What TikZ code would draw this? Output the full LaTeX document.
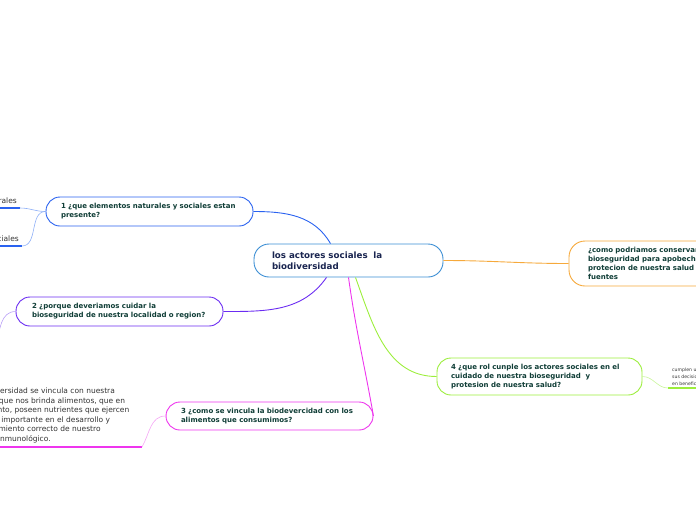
\documentclass[tikz,border=0pt]{standalone}
\usepackage{fontspec}
\setmainfont{DejaVu Sans}
\usetikzlibrary{positioning}

\definecolor{centralblue}{HTML}{3B8ED4}
\definecolor{centraltext}{HTML}{1A2550}
\definecolor{questiontext}{HTML}{0F3D36}
\definecolor{answertext}{HTML}{333333}
\definecolor{qblue}{HTML}{2A62F0}
\definecolor{qbluelight}{HTML}{8FB0F7}
\definecolor{qpurple}{HTML}{6B2CF2}
\definecolor{qpurplelight}{HTML}{B9A0F6}
\definecolor{qmagenta}{HTML}{EE35EE}
\definecolor{qmagentalight}{HTML}{F4A6F4}
\definecolor{qgreen}{HTML}{9CEE3C}
\definecolor{qgreenlight}{HTML}{C9F59B}
\definecolor{qorange}{HTML}{F6A93B}

\begin{document}
\begin{tikzpicture}[x=1pt,y=-1pt,
    central/.style={rectangle,draw=centralblue,line width=0.9pt,fill=white,rounded corners=15pt,inner xsep=18pt,inner ysep=0pt,minimum height=33pt,align=left,text=centraltext,font=\bfseries\fontsize{8.7}{11}\selectfont},
    question/.style={rectangle,draw,line width=0.9pt,fill=white,rounded corners=14pt,inner xsep=15pt,inner ysep=0pt,minimum height=29pt,align=left,text=questiontext,font=\bfseries\fontsize{7}{9}\selectfont},
    answer/.style={inner sep=0pt,align=left,text=answertext,font=\fontsize{7.5}{9.5}\selectfont},
    smallanswer/.style={inner sep=0pt,align=left,text=answertext,font=\fontsize{4.6}{7}\selectfont},
    branch/.style={line width=0.9pt},
    twig/.style={line width=0.6pt},
    underline/.style={line width=1.8pt}
    ]

    \useasboundingbox (0,0) rectangle (696,520);
    \clip (0,0) rectangle (696,520);

    \node (central) [central,text width=153pt] at (348.5,260.5) {los actores sociales\ \ la\\biodiversidad};

    \node (q1) [question,draw=qblue,text width=177pt] at (149.5,211.5) {1 ¿que elementos naturales y sociales estan\\presente?};
    \node (q2) [question,draw=qpurple,inner xsep=16pt,text width=175pt] at (119.5,311.5) {2 ¿porque deveriamos cuidar la\\bioseguridad de nuestra localidad o region?};
    \node (q3) [question,draw=qmagenta,minimum height=28pt,text width=177pt] at (269.5,416) {3 ¿como se vincula la biodevercidad con los\\alimentos que consumimos?};
    \node (q4) [question,draw=qgreen,inner xsep=14pt,minimum height=37pt,text width=177pt] at (539.5,376.5) {4 ¿que rol cunple los actores sociales en el\\cuidado de nuestra bioseguridad\ \ y\\protesion de nuestra salud?};
    \node (q5) [question,draw=qorange,inner xsep=19pt,minimum height=45pt,rounded corners=16pt,text width=162pt] at (669,263.5) {¿como podriamos conservar la\\bioseguridad para apobechar la\\protecion de nuestra salud y sus\\fuentes};

    \draw[branch,qblue] ([xshift=-18pt]central.north) to[out=120,in=0] (q1.east);
    \draw[branch,qpurple] ([xshift=-22pt]central.south) to[out=-125,in=0] (q2.east);
    \draw[branch,qmagenta] (central.south) to[out=-82,in=100] (q3.east);
    \draw[branch,qgreen] ([xshift=7pt]central.south) to[out=-70,in=180] (q4.west);
    \draw[branch,qorange] (central.east) to[out=0,in=180] (q5.west);

    % leaves of 1
    \coordinate (natend) at (20,208);
    \coordinate (socend) at (22,246);
    \node (nat) [answer,anchor=south east] at (17,204) {naturales};
    \node (soc) [answer,anchor=south east] at (19,242) {sociales};
    \draw[underline,qblue] (nat.south west |- natend) -- (natend);
    \draw[underline,qblue] (soc.south west |- socend) -- (socend);
    \draw[twig,qbluelight] (q1.west) to[out=180,in=0] (natend);
    \draw[twig,qbluelight] (q1.west) to[out=180,in=0] (socend);

    % leaf of 2
    \coordinate (q2leaf) at (-4,345);
    \draw[twig,qpurplelight] (q2.west) to[out=180,in=75] (q2leaf);

    % leaf of 3
    \coordinate (vincend) at (142,447);
    \node (vinc) [answer,anchor=south west] at (-34,443) {La biodiversidad se vincula con nuestra\\dieta ya que nos brinda alimentos, que en\\su conjunto, poseen nutrientes que ejercen\\un papel importante en el desarrollo y\\funcionamiento correcto de nuestro\\sistema inmunológico.};
    \draw[underline,qmagenta] (vinc.south west |- vincend) -- (vincend);
    \draw[twig,qmagentalight] (q3.west) to[out=180,in=60] (vincend);

    % leaf of 4
    \coordinate (cumpend) at (668,388);
    \node (cump) [smallanswer,anchor=south west] at (672,386) {cumplen un rol importante con\\sus decisiones y acciones\\en beneficio de la comunidad};
    \draw[underline,qgreen] (cumpend) -- (cump.south east |- cumpend);
    \draw[twig,qgreenlight] (q4.east) to[out=0,in=180] (cumpend);

\end{tikzpicture}
\end{document}
